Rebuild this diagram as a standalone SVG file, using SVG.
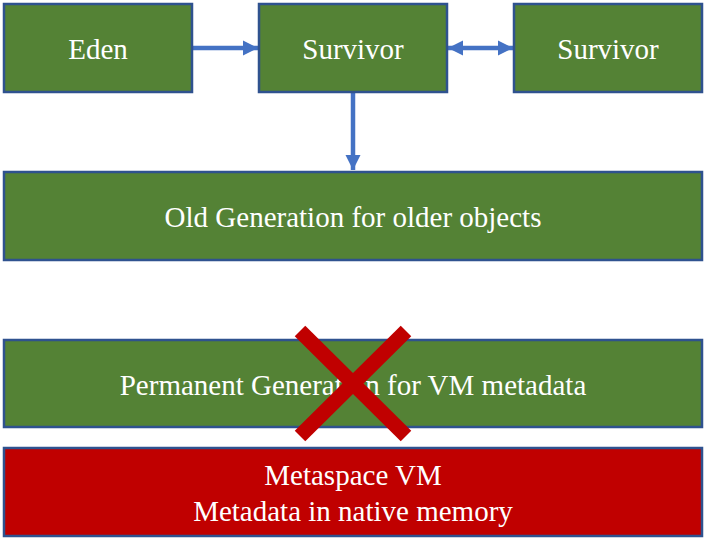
<svg xmlns="http://www.w3.org/2000/svg" width="706" height="541" viewBox="0 0 706 541">
  <style>
    .box { fill: #548235; stroke: #2F528F; stroke-width: 2.5; }
    .box.red { fill: #C00000; }
    .lbl { font-family: "Liberation Serif", "Times New Roman", serif; font-size: 29px; fill: #FFFFFF; text-anchor: middle; }
    .conn { stroke: #4472C4; stroke-width: 4.5; fill: none; }
    .cross { stroke: #C00000; stroke-width: 15; stroke-linecap: butt; }
  </style>
  <defs>
    <marker id="head" viewBox="0 0 10 10" refX="10" refY="5" markerWidth="3.4" markerHeight="3.4" orient="auto-start-reverse" markerUnits="strokeWidth">
      <path d="M0,0 L10,5 L0,10 Z" fill="#4472C4"/>
    </marker>
  </defs>

  <g id="connectors">
    <line class="conn" x1="192" y1="48" x2="258" y2="48" marker-end="url(#head)"/>
    <line class="conn" x1="448" y1="48" x2="513" y2="48" marker-start="url(#head)" marker-end="url(#head)"/>
    <line class="conn" x1="353" y1="93" x2="353" y2="170" marker-end="url(#head)"/>
  </g>

  <g id="eden">
    <rect class="box" x="4" y="4" width="188" height="88"/>
    <text class="lbl" x="98" y="59">Eden</text>
  </g>
  <g id="survivor-1">
    <rect class="box" x="259" y="4" width="188" height="88"/>
    <text class="lbl" x="353" y="59">Survivor</text>
  </g>
  <g id="survivor-2">
    <rect class="box" x="514" y="4" width="188" height="88"/>
    <text class="lbl" x="608" y="59">Survivor</text>
  </g>
  <g id="old-generation">
    <rect class="box" x="4" y="172" width="698" height="88"/>
    <text class="lbl" x="353" y="227">Old Generation for older objects</text>
  </g>
  <g id="permanent-generation">
    <rect class="box" x="4" y="340" width="698" height="87"/>
    <text class="lbl" x="353" y="395">Permanent Generation for VM metadata</text>
    <!-- crossed out -->
    <line class="cross" x1="300" y1="331" x2="406" y2="436"/>
    <line class="cross" x1="406" y1="331" x2="300" y2="436"/>
  </g>
  <g id="metaspace">
    <rect class="box red" x="4" y="448" width="698" height="88"/>
    <text class="lbl" x="353" y="485">Metaspace VM</text>
    <text class="lbl" x="353" y="521">Metadata in native memory</text>
  </g>
</svg>
